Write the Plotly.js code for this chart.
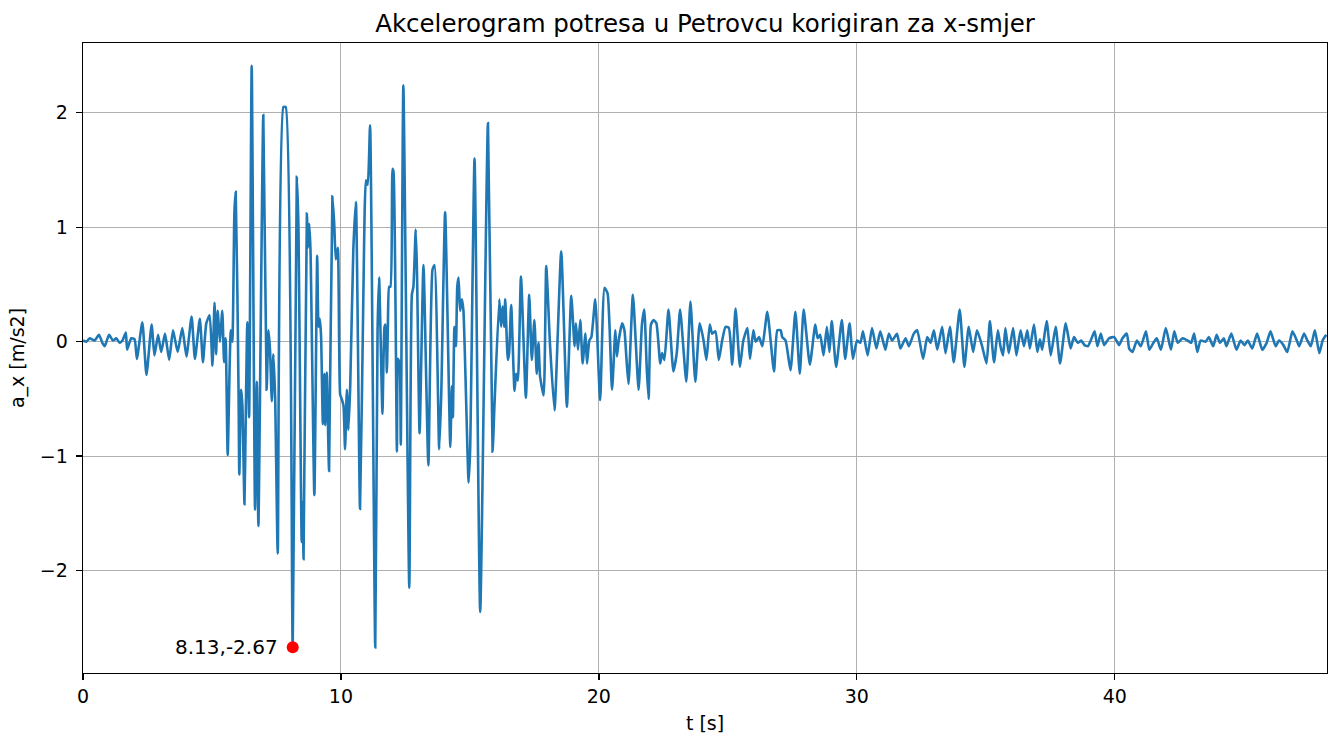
<!DOCTYPE html>
<html>
<head>
<meta charset="utf-8">
<script src="https://cdn.plot.ly/plotly-3.0.1.min.js"></script>
<style>html,body{margin:0;padding:0;background:#fff;}#chart{width:1331px;height:736px;}</style>
</head>
<body>
<div id="chart"></div>
<script>
// Time [s] of the traced samples (extrema)
const timeS = [
0.00,0.13,0.26,0.45,0.62,0.75,0.84,1.01,1.16,1.29,1.42,1.53,1.66,1.71,1.87,2.00,2.09,2.30,2.46,2.66,
2.77,2.91,3.03,3.18,3.34,3.49,3.67,3.85,4.01,4.21,4.34,4.53,4.65,4.78,4.91,5.02,5.10,5.16,5.22,5.31,
5.40,5.47,5.53,5.61,5.73,5.79,5.87,5.92,6.03,6.06,6.13,6.18,6.26,6.31,6.37,6.44,6.54,6.67,6.74,6.80,
6.99,7.12,7.19,7.25,7.32,7.38,7.45,7.55,7.77,7.86,8.13,8.29,8.35,8.48,8.52,8.55,8.68,8.72,8.77,8.82,
8.97,9.08,9.13,9.18,9.23,9.30,9.36,9.39,9.45,9.54,9.67,9.74,9.80,9.88,9.97,10.03,10.10,10.16,10.23,10.29,
10.36,10.48,10.58,10.74,10.87,10.97,11.04,11.13,11.33,11.42,11.48,11.53,11.61,11.69,11.73,11.78,11.82,11.87,11.92,12.00,
12.04,12.17,12.21,12.28,12.32,12.42,12.65,12.75,12.81,12.90,12.95,13.05,13.20,13.39,13.55,13.63,13.81,13.89,14.04,14.24,
14.30,14.34,14.40,14.46,14.51,14.56,14.62,14.69,14.75,14.95,15.01,15.18,15.40,15.70,15.88,15.95,16.14,16.21,16.27,16.33,
16.37,16.47,16.52,16.60,16.73,16.79,16.86,16.98,17.17,17.30,17.40,17.50,17.59,17.66,17.72,17.86,17.96,18.11,18.28,18.54,
18.76,18.93,19.06,19.11,19.19,19.28,19.37,19.48,19.54,19.63,19.71,19.86,20.05,20.22,20.34,20.51,20.64,20.70,20.77,20.90,
20.99,21.07,21.15,21.32,21.54,21.67,21.76,21.86,21.93,22.02,22.12,22.23,22.38,22.45,22.54,22.70,22.89,23.02,23.15,23.39,
23.55,23.74,23.91,24.06,24.17,24.30,24.39,24.52,24.65,24.78,24.91,25.04,25.17,25.30,25.47,25.60,25.76,25.86,25.99,26.08,
26.21,26.34,26.53,26.79,26.92,27.05,27.11,27.24,27.43,27.62,27.79,27.94,28.18,28.39,28.48,28.58,28.71,28.84,28.94,29.03,
29.20,29.42,29.55,29.72,29.85,30.01,30.14,30.24,30.42,30.59,30.76,30.91,31.11,31.24,31.37,31.56,31.69,31.89,32.02,32.21,
32.34,32.57,32.73,32.86,32.99,33.12,33.31,33.44,33.61,33.76,33.99,34.17,34.34,34.51,34.66,34.86,35.03,35.16,35.32,35.47,
35.57,35.67,35.76,35.89,36.06,36.19,36.35,36.48,36.61,36.71,36.87,37.00,37.10,37.19,37.36,37.52,37.71,37.88,38.10,38.29,
38.42,38.57,38.70,38.83,38.96,39.07,39.22,39.33,39.46,39.59,39.78,39.98,40.17,40.30,40.47,40.56,40.69,40.86,41.01,41.21,
41.34,41.50,41.63,41.79,41.98,42.18,42.31,42.44,42.63,42.83,42.96,43.08,43.20,43.33,43.52,43.65,43.82,43.95,44.08,44.23,
44.33,44.52,44.72,44.88,45.03,45.16,45.33,45.52,45.72,45.89,46.04,46.24,46.37,46.54,46.69,46.89,47.06,47.15,47.34,47.47,
47.60,47.76,47.93,48.06,48.20
];
// Corrected acceleration a_x [m/s2]
const accelX = [
0.01,0.00,0.03,0.01,0.06,-0.01,-0.04,0.06,0.01,0.03,-0.01,0.01,0.08,-0.07,0.03,0.02,-0.15,0.17,-0.29,0.15,
-0.12,0.06,-0.09,0.07,-0.16,0.10,-0.09,0.12,-0.13,0.22,-0.15,0.20,-0.18,0.16,0.23,-0.21,0.34,-0.11,0.27,0.00,
0.27,-0.18,0.03,-0.99,0.10,0.00,1.13,1.31,-0.42,-1.16,-0.42,-0.56,-1.42,-0.66,0.17,-0.66,2.41,-1.47,-0.35,-1.61,
1.98,-0.42,0.10,-0.07,-0.52,-0.11,-0.50,-1.85,2.05,2.05,-2.67,1.44,1.03,-1.75,-1.40,-1.90,1.12,0.82,1.03,0.80,
-1.34,0.75,0.13,0.20,0.05,-0.72,-0.28,-0.73,-0.27,-1.13,1.27,1.03,0.72,0.82,-0.46,-0.50,-0.56,-0.94,-0.42,-0.77,
-0.39,0.80,1.22,-1.46,0.41,1.41,1.37,1.89,-2.67,0.10,0.56,0.13,-0.63,0.13,0.15,-0.27,0.13,0.48,0.48,1.51,
1.48,-0.96,-0.15,-0.21,-0.90,2.24,-2.15,0.41,0.48,0.98,0.60,-0.80,0.67,-1.08,0.63,0.67,-0.94,-0.45,1.13,-0.92,
-0.39,-0.66,0.13,-0.04,0.48,0.56,0.27,0.37,0.27,-1.23,-0.94,1.60,-2.36,1.91,-0.96,-0.57,0.37,0.13,0.31,0.13,
0.37,-0.16,-0.10,0.32,-0.43,-0.28,-0.34,0.57,-0.49,0.41,-0.16,0.19,-0.28,-0.01,-0.30,-0.47,0.66,-0.04,-0.60,0.79,
-0.57,0.40,-0.04,0.16,-0.07,0.19,-0.19,0.07,-0.19,0.01,0.04,0.37,-0.51,0.47,0.42,-0.42,0.10,-0.13,0.01,0.16,
0.10,-0.15,-0.37,0.41,-0.42,0.15,0.28,-0.25,-0.50,0.15,0.19,0.16,-0.19,-0.10,-0.16,0.28,-0.26,-0.10,0.28,-0.35,
0.35,-0.35,0.16,0.01,-0.16,0.15,0.07,0.09,-0.16,0.01,0.13,0.12,-0.20,0.29,-0.22,0.01,0.12,-0.15,0.10,0.00,
0.04,-0.04,0.26,-0.26,0.10,0.10,0.04,0.01,-0.25,0.26,-0.28,0.28,-0.20,0.15,0.03,0.06,-0.12,0.13,-0.09,0.18,
-0.22,0.19,-0.15,0.16,-0.15,0.01,-0.01,0.09,-0.12,0.12,-0.06,0.09,-0.07,0.07,0.01,0.07,-0.06,0.03,-0.04,0.07,
0.10,-0.15,0.04,-0.01,0.10,-0.07,0.13,-0.10,0.13,-0.18,0.28,-0.22,0.13,-0.09,0.10,-0.04,-0.19,0.18,-0.18,0.10,
-0.04,-0.12,0.12,-0.10,0.12,-0.12,0.10,-0.04,0.10,-0.06,0.15,-0.09,0.02,-0.07,0.18,-0.12,0.13,-0.19,0.16,-0.06,
0.04,-0.01,0.01,-0.03,-0.04,0.01,0.09,-0.04,0.07,-0.03,0.03,0.04,-0.03,0.03,0.07,-0.06,-0.09,0.01,-0.04,0.09,
-0.07,-0.01,0.03,-0.07,0.12,-0.07,0.09,-0.01,0.03,0.01,-0.01,0.07,-0.09,0.01,0.00,0.04,-0.04,0.06,-0.01,0.03,
-0.04,0.07,-0.07,0.01,-0.03,0.01,-0.06,0.07,-0.07,-0.01,0.09,-0.04,0.01,-0.03,-0.09,0.09,0.01,-0.04,0.07,0.01,
-0.04,0.10,-0.10,0.01,0.06
];
// Minimum point
const minT = [8.13];
const minA = [-2.67];
const minLabel = "8.13,-2.67";

const titleText = "Akcelerogram potresa u Petrovcu korigiran za x-smjer";
const xLabel = "t [s]";
const yLabel = "a_x [m/s2]";

const FONT = "DejaVu Sans, Liberation Sans, sans-serif";
const TICK_SIZE = 19;

const traces = [
  {x: timeS, y: accelX, type: "scatter", mode: "lines",
   line: {color: "#1f77b4", width: 2.6, shape: "spline", smoothing: 0.5}, hoverinfo: "skip"},
  {x: minT, y: minA, type: "scatter", mode: "markers",
   marker: {color: "#ff0000", size: 12}, hoverinfo: "skip"}
];

const layout = {
  width: 1331, height: 736,
  margin: {l: 83, r: 4, t: 43, b: 63, pad: 0},
  paper_bgcolor: "#ffffff", plot_bgcolor: "#ffffff",
  showlegend: false,
  font: {family: FONT, size: TICK_SIZE, color: "#000"},
  title: {text: titleText, font: {family: FONT, size: 24.5, color: "#000"},
          x: 0.5, xref: "paper", xanchor: "center", y: 1 - 23/736, yref: "container", yanchor: "middle"},
  xaxis: {
    range: [0, 48.23], autorange: false,
    tick0: 0, dtick: 10, ticks: "outside", ticklen: 6, tickwidth: 1.4, tickcolor: "#000",
    showgrid: true, gridcolor: "#b0b0b0", gridwidth: 1, zeroline: false,
    showline: true, linecolor: "#000", linewidth: 1.4, mirror: true,
    tickfont: {family: FONT, size: TICK_SIZE, color: "#000"},
    title: {text: xLabel, font: {family: FONT, size: TICK_SIZE, color: "#000"}, standoff: 10}
  },
  yaxis: {
    range: [-2.894, 2.609], autorange: false,
    tick0: 0, dtick: 1, ticks: "outside", ticklen: 6, tickwidth: 1.4, tickcolor: "#000",
    showgrid: true, gridcolor: "#b0b0b0", gridwidth: 1, zeroline: false,
    showline: true, linecolor: "#000", linewidth: 1.4, mirror: true,
    ticklabelstandoff: 4,
    tickfont: {family: FONT, size: TICK_SIZE, color: "#000"},
    title: {text: yLabel, font: {family: FONT, size: TICK_SIZE, color: "#000"}, standoff: 10}
  },
  annotations: [{
    x: minT[0], y: minA[0], xref: "x", yref: "y", text: minLabel, showarrow: false,
    xanchor: "right", yanchor: "middle", xshift: -13,
    font: {family: FONT, size: 20, color: "#000"}
  }]
};

Plotly.newPlot("chart", traces, layout, {staticPlot: true, displayModeBar: false});
</script>
</body>
</html>
